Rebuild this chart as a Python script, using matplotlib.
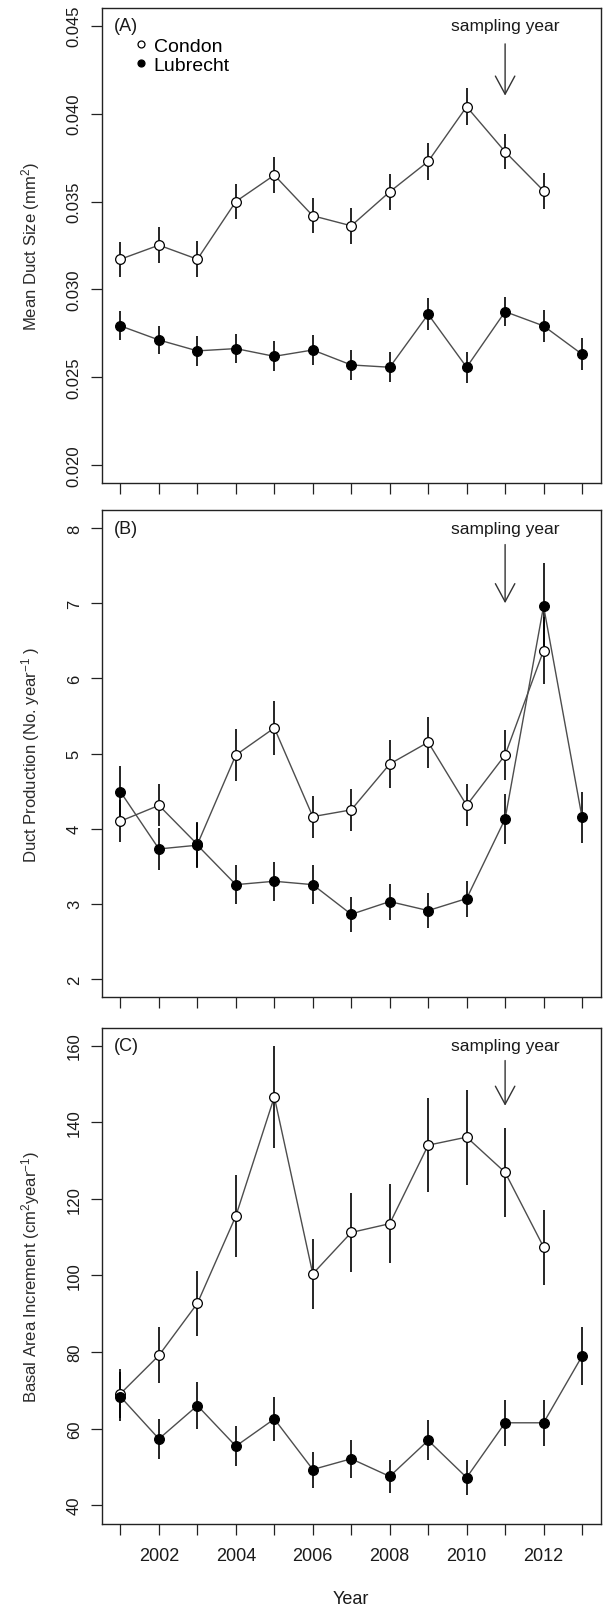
import matplotlib
matplotlib.use('Agg')
import matplotlib.pyplot as plt
from matplotlib.lines import Line2D

plt.rcParams['font.family'] = ['Liberation Sans', 'DejaVu Sans']
plt.rcParams['mathtext.fontset'] = 'custom'
plt.rcParams['mathtext.rm'] = 'Liberation Sans'
plt.rcParams['mathtext.it'] = 'Liberation Sans:italic'
plt.rcParams['mathtext.default'] = 'regular'

# ---------------- data ----------------
years_condon = list(range(2001, 2013))
years_lubrecht = list(range(2001, 2014))

duct_size_condon = [0.03172, 0.03252, 0.03172, 0.03500, 0.03650, 0.03419, 0.03362,
                    0.03555, 0.03728, 0.04039, 0.03783, 0.03561]
duct_size_condon_se = [0.00100, 0.00102, 0.00102, 0.00101, 0.00104, 0.00100, 0.00103,
                       0.00101, 0.00104, 0.00104, 0.00100, 0.00103]
duct_size_lubrecht = [0.02793, 0.02713, 0.02651, 0.02664, 0.02620, 0.02656, 0.02571,
                      0.02558, 0.02859, 0.02558, 0.02874, 0.02793, 0.02632]
duct_size_lubrecht_se = [0.00082, 0.00081, 0.00085, 0.00084, 0.00085, 0.00085, 0.00087,
                         0.00086, 0.00090, 0.00088, 0.00084, 0.00089, 0.00092]

duct_prod_condon = [4.10, 4.31, 3.79, 4.98, 5.34, 4.16, 4.25, 4.86, 5.15, 4.31, 4.98, 6.37]
duct_prod_condon_se = [0.28, 0.28, 0.30, 0.34, 0.36, 0.28, 0.28, 0.32, 0.34, 0.28, 0.33, 0.45]
duct_prod_lubrecht = [4.49, 3.73, 3.78, 3.255, 3.30, 3.255, 2.86, 3.03, 2.91, 3.07, 4.13, 6.96, 4.15]
duct_prod_lubrecht_se = [0.35, 0.28, 0.30, 0.26, 0.26, 0.26, 0.23, 0.24, 0.23, 0.24, 0.33, 0.57, 0.34]

bai_condon = [69.1, 79.1, 92.7, 115.5, 146.6, 100.4, 111.2, 113.5, 134.0, 136.1, 126.9, 107.4]
bai_condon_se = [6.4, 7.3, 8.5, 10.6, 13.3, 9.2, 10.3, 10.4, 12.2, 12.4, 11.6, 9.8]
bai_lubrecht = [68.3, 57.3, 66.0, 55.4, 62.5, 49.3, 52.1, 47.5, 56.9, 47.2, 61.5, 61.5, 78.9]
bai_lubrecht_se = [6.4, 5.3, 6.2, 5.2, 5.8, 4.7, 5.0, 4.4, 5.2, 4.5, 6.0, 6.0, 7.6]

series_names = ['Condon', 'Lubrecht']
panel_letters = ['(A)', '(B)', '(C)']
y_labels = ['Mean Duct Size (mm$^2$)',
            'Duct Production (No. year$^{-1}$ )',
            'Basal Area Increment (cm$^2$year$^{-1}$)']
y_ticks = [[0.020, 0.025, 0.030, 0.035, 0.040, 0.045],
           [2, 3, 4, 5, 6, 7, 8],
           [40, 60, 80, 100, 120, 140, 160]]
y_tick_labels = [['0.020', '0.025', '0.030', '0.035', '0.040', '0.045'],
                 ['2', '3', '4', '5', '6', '7', '8'],
                 ['40', '60', '80', '100', '120', '140', '160']]
y_limits = [(0.019, 0.046), (1.76, 8.24), (35.2, 164.6)]
sampling_year = 2011
sampling_text_y = [0.045, 8.0, 160.0]
arrow_tail_y = [0.04396, 7.78, 156.1]
arrow_tip_y = [0.04102, 7.0, 144.3]
x_ticks = list(range(2001, 2014))
x_tick_labels = ['' if y % 2 else str(y) for y in x_ticks]

panels = [
    (duct_size_condon, duct_size_condon_se, duct_size_lubrecht, duct_size_lubrecht_se),
    (duct_prod_condon, duct_prod_condon_se, duct_prod_lubrecht, duct_prod_lubrecht_se),
    (bai_condon, bai_condon_se, bai_lubrecht, bai_lubrecht_se),
]

# ---------------- figure ----------------
W, H = 605, 1606
fig = plt.figure(figsize=(W / 100, H / 100), dpi=100)
fig.patch.set_facecolor('white')

left_px, right_px = 102, 600.5
boxes_px = [(9, 484), (511, 998), (1029, 1524.5)]

text_col = '#1a1a1a'
line_col = '#4d4d4d'

axes = []
for i, (top, bot) in enumerate(boxes_px):
    ax = fig.add_axes([left_px / W, 1 - bot / H, (right_px - left_px) / W, (bot - top) / H])
    axes.append(ax)
    c, cse, l, lse = panels[i]

    ax.errorbar(years_condon, c, yerr=cse, fmt='none', ecolor='black', elinewidth=1.2, capsize=0, zorder=2)
    ax.errorbar(years_lubrecht, l, yerr=lse, fmt='none', ecolor='black', elinewidth=1.2, capsize=0, zorder=2)
    ax.plot(years_condon, c, '-', color=line_col, lw=1.0, zorder=3)
    ax.plot(years_lubrecht, l, '-', color=line_col, lw=1.0, zorder=3)
    ax.plot(years_condon, c, 'o', ms=7, mfc='white', mec='black', mew=0.9, zorder=4)
    ax.plot(years_lubrecht, l, 'o', ms=7, mfc='black', mec='black', mew=0.9, zorder=5)

    ax.set_xlim(2000.52, 2013.48)
    ax.set_ylim(*y_limits[i])
    ax.set_xticks(x_ticks)
    if i == 2:
        ax.set_xticklabels(x_tick_labels, fontsize=13, color=text_col)
    else:
        ax.set_xticklabels([])
    ax.set_yticks(y_ticks[i])
    ax.set_yticklabels(y_tick_labels[i], fontsize=12, color=text_col, rotation=90, va='center')
    ax.tick_params(axis='both', direction='out', length=8, width=0.9, color='#222222')
    ax.tick_params(axis='x', pad=9)
    ax.tick_params(axis='y', pad=6.5)
    for s in ax.spines.values():
        s.set_linewidth(1.0)
        s.set_color('#222222')

    ax.set_ylabel(y_labels[i], fontsize=12, color='#2a2a2a')
    ax.yaxis.set_label_coords(-0.12, 0.5)

    ax.text(2000.82, y_ticks[i][-1], panel_letters[i], ha='left', va='center', fontsize=13, color=text_col)
    ax.text(sampling_year, sampling_text_y[i], 'sampling year', ha='center', va='center', fontsize=12.5, color=text_col)
    ax.annotate('', xy=(sampling_year, arrow_tip_y[i]), xytext=(sampling_year, arrow_tail_y[i]),
                arrowprops=dict(arrowstyle='->,head_length=13,head_width=7', mutation_scale=1,
                                lw=1.0, color='#333333', shrinkA=0, shrinkB=0))

# legend on panel A
handles = [Line2D([], [], marker='o', ls='none', ms=5, mfc='white', mec='black', mew=0.9),
           Line2D([], [], marker='o', ls='none', ms=5, mfc='black', mec='black', mew=0.9)]
axes[0].legend(handles, series_names, loc='upper left', bbox_to_anchor=(0.067, 0.938),
               frameon=False, fontsize=14, handlelength=0.6, handletextpad=0.35,
               labelspacing=0.05, borderpad=0.0, borderaxespad=0.0)

axes[2].set_xlabel('Year', fontsize=13, color=text_col)
axes[2].xaxis.set_label_coords(0.5, -0.134)

fig.savefig('out.png', dpi=100)
